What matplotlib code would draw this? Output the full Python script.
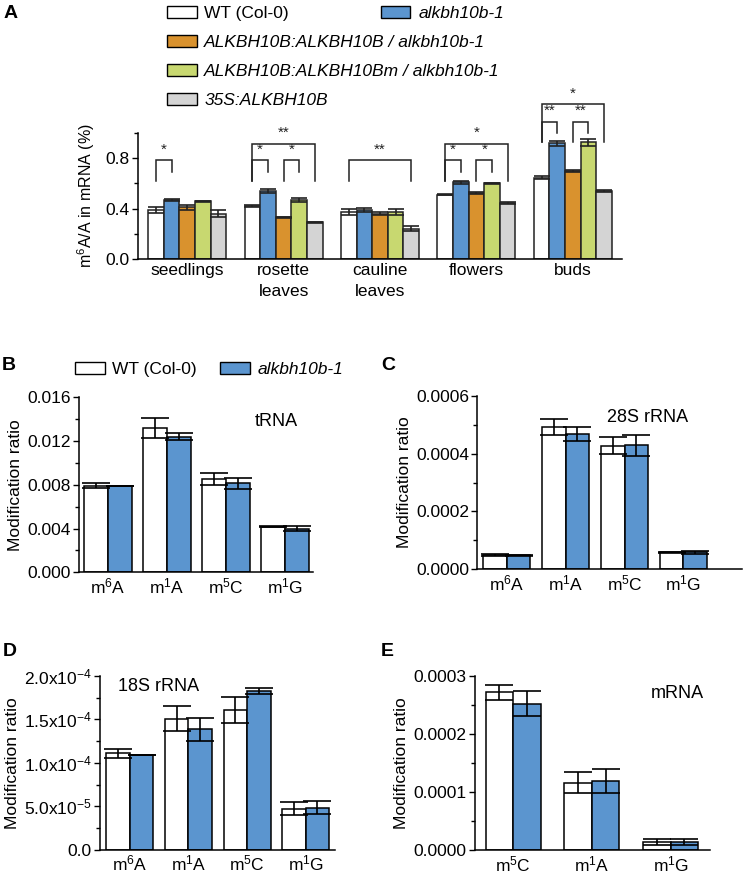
import numpy as np
import matplotlib
matplotlib.use('Agg')
import matplotlib.pyplot as plt
from matplotlib.patches import Patch
from matplotlib.ticker import MultipleLocator, FormatStrFormatter, FixedLocator, FixedFormatter

plt.rcParams['font.family'] = ['Liberation Sans', 'DejaVu Sans']
plt.rcParams['mathtext.default'] = 'regular'

##################################################################
# Data
##################################################################
# Panel A: m6A/A in mRNA (%) for five genotypes across tissues
tissues = ['seedlings', 'rosette\nleaves', 'cauline\nleaves', 'flowers', 'buds']
genotypes = ['WT (Col-0)', 'alkbh10b-1', 'ALKBH10B:ALKBH10B / alkbh10b-1',
             'ALKBH10B:ALKBH10Bm / alkbh10b-1', '35S:ALKBH10B']
a_wt = [0.39, 0.42, 0.375, 0.51, 0.645]
a_mut = [0.47, 0.54, 0.39, 0.61, 0.92]
a_comp = [0.41, 0.33, 0.36, 0.52, 0.70]
a_compm = [0.46, 0.47, 0.375, 0.60, 0.925]
a_oe = [0.36, 0.29, 0.24, 0.445, 0.54]
a_wt_err = [0.025, 0.005, 0.022, 0.003, 0.013]
a_mut_err = [0.008, 0.013, 0.018, 0.013, 0.02]
a_comp_err = [0.022, 0.004, 0.012, 0.008, 0.008]
a_compm_err = [0.004, 0.015, 0.022, 0.004, 0.027]
a_oe_err = [0.028, 0.002, 0.02, 0.01, 0.01]

# significance brackets: (tissue, bar_i, bar_j, top, leg_i, leg_j, label)
a_sig = [
    (0, 0, 1, 0.785, 0.62, 0.69, '*'),
    (1, 0, 1, 0.785, 0.62, 0.69, '*'),
    (1, 2, 3, 0.785, 0.62, 0.69, '*'),
    (1, 0, 4, 0.915, 0.62, 0.62, '**'),
    (2, 0, 4, 0.785, 0.62, 0.62, '**'),
    (3, 0, 1, 0.785, 0.62, 0.69, '*'),
    (3, 2, 3, 0.785, 0.62, 0.69, '*'),
    (3, 0, 4, 0.915, 0.62, 0.62, '*'),
    (4, 0, 1, 1.09, 0.925, 1.0, '**'),
    (4, 2, 3, 1.09, 0.925, 1.0, '**'),
    (4, 0, 4, 1.228, 0.925, 0.925, '*'),
]

# Panel B: tRNA
b_mods = ['m$^6$A', 'm$^1$A', 'm$^5$C', 'm$^1$G']
b_wt = [0.0079, 0.0132, 0.00853, 0.00417]
b_wt_err = [0.00023, 0.00094, 0.00056, 0.00005]
b_mut = [0.0079, 0.0124, 0.00814, 0.00399]
b_mut_err = [0.0, 0.0003, 0.00052, 0.0002]

# Panel C: 28S rRNA
c_mods = ['m$^6$A', 'm$^1$A', 'm$^5$C', 'm$^1$G']
c_wt = [0.0000494, 0.000491, 0.000427, 0.0000588]
c_wt_err = [0.000002, 0.000027, 0.000029, 0.000002]
c_mut = [0.000049, 0.000468, 0.000428, 0.0000585]
c_mut_err = [0.000002, 0.000024, 0.000036, 0.000004]

# Panel D: 18S rRNA
d_mods = ['m$^6$A', 'm$^1$A', 'm$^5$C', 'm$^1$G']
d_wt = [1.11e-4, 1.505e-4, 1.608e-4, 4.72e-5]
d_wt_err = [5e-6, 1.44e-5, 1.5e-5, 7.3e-6]
d_mut = [1.094e-4, 1.386e-4, 1.827e-4, 4.84e-5]
d_mut_err = [0.0, 1.3e-5, 3e-6, 7.5e-6]
d_ticks = [0.0, 5e-5, 1e-4, 1.5e-4, 2e-4]
d_ticklabels = ['0.0', '5.0x10$^{-5}$', '1.0x10$^{-4}$', '1.5x10$^{-4}$', '2.0x10$^{-4}$']

# Panel E: mRNA
e_mods = ['m$^5$C', 'm$^1$A', 'm$^1$G']
e_wt = [0.0002714, 0.0001159, 0.0000132]
e_wt_err = [0.0000124, 0.000018, 0.000005]
e_mut = [0.000252, 0.0001188, 0.0000143]
e_mut_err = [0.000021, 0.00002, 0.000005]

colors = ['white', '#5b95cf', '#d9922e', '#c8d870', '#d4d4d4']

##################################################################
# Layout helpers (pixel boxes -> figure fractions)
##################################################################
W, H = 747, 875
fig = plt.figure(figsize=(W / 100, H / 100), dpi=100)


def px_axes(left, top, right, bottom):
    return fig.add_axes([left / W, 1 - bottom / H, (right - left) / W, (bottom - top) / H])


def style_axes(ax, lw=1.1):
    for s in ['top', 'right']:
        ax.spines[s].set_visible(False)
    for s in ['left', 'bottom']:
        ax.spines[s].set_linewidth(lw)
    ax.tick_params(axis='x', length=0, labelsize=12.5, pad=3)
    ax.tick_params(axis='y', which='major', length=4, width=1.0, labelsize=12.5, pad=2)
    ax.tick_params(axis='y', which='minor', length=3, width=1.0)


def pair_bars(ax, mods, wt, wt_err, mut, mut_err, width, ylim, text, text_xy):
    x = np.arange(len(mods))
    ekw = dict(elinewidth=1.2, capthick=1.2, ecolor='black')
    ax.bar(x - width / 2, wt, width, yerr=wt_err, color=colors[0], edgecolor='black',
           linewidth=1.1, capsize=10, error_kw=ekw)
    ax.bar(x + width / 2, mut, width, yerr=mut_err, color=colors[1], edgecolor='black',
           linewidth=1.1, capsize=10, error_kw=ekw)
    ax.set_xticks(x)
    ax.set_xticklabels(mods)
    ax.set_ylim(*ylim)
    ax.set_ylabel('Modification ratio', fontsize=12.5, labelpad=3)
    ax.text(text_xy[0], text_xy[1], text, transform=ax.transAxes, fontsize=13,
            ha='left', va='center')
    style_axes(ax)


##################################################################
# Panel A
##################################################################
axA = px_axes(138, 133, 622, 259)
wA = 0.162
xg = np.arange(len(tissues))
vals = [a_wt, a_mut, a_comp, a_compm, a_oe]
errs = [a_wt_err, a_mut_err, a_comp_err, a_compm_err, a_oe_err]
for j in range(5):
    axA.bar(xg + (j - 2) * wA, vals[j], wA, yerr=errs[j], color=colors[j],
            edgecolor='#222222', linewidth=1.1, capsize=6,
            error_kw=dict(elinewidth=1.2, capthick=1.2, ecolor='#222222'))
for g, i, j, top, li, lj, lab in a_sig:
    xi = g + (i - 2) * wA
    xj = g + (j - 2) * wA
    axA.plot([xi, xi, xj, xj], [li, top, top, lj], color='#222222', lw=1.1,
             clip_on=False, solid_joinstyle='miter')
    axA.text((xi + xj) / 2, top + 0.03, lab, ha='center', va='bottom',
             fontsize=11, color='#222222', clip_on=False)
axA.set_xlim(-0.51, 4.51)
axA.set_ylim(0, 1.0)
axA.set_xticks(xg)
axA.set_xticklabels(tissues, linespacing=1.5)
axA.yaxis.set_major_locator(FixedLocator([0.0, 0.4, 0.8]))
axA.yaxis.set_minor_locator(MultipleLocator(0.2))
axA.yaxis.set_major_formatter(FormatStrFormatter('%.1f'))
axA.set_ylabel('m$^6$A/A in mRNA (%)', fontsize=11.5, labelpad=6)
style_axes(axA)

# legend for panel A
hA = [Patch(facecolor=colors[j], edgecolor='black', linewidth=1.0) for j in range(5)]
leg_kw = dict(frameon=False, fontsize=12.5, handlelength=1.7, handleheight=0.72,
              handletextpad=0.45, borderpad=0, borderaxespad=0)
legA1 = fig.legend(hA[:2], genotypes[:2], loc='upper left', ncol=2,
                   bbox_to_anchor=(167 / W, 1 - 6 / H), columnspacing=5.3, **leg_kw)
for t in legA1.get_texts()[1:]:
    t.set_style('italic')
legA2 = fig.legend(hA[2:], genotypes[2:], loc='upper left', labelspacing=0.78,
                   bbox_to_anchor=(167 / W, 1 - 35 / H), **leg_kw)
for t in legA2.get_texts():
    t.set_style('italic')

##################################################################
# Panels B-E
##################################################################
axB = px_axes(79, 397.3, 313, 572.3)
pair_bars(axB, b_mods, b_wt, b_wt_err, b_mut, b_mut_err, 0.41, (0, 0.016), 'tRNA', (0.75, 0.86))
axB.set_xlim(-0.49, 3.47)
axB.yaxis.set_major_locator(MultipleLocator(0.004))
axB.yaxis.set_minor_locator(MultipleLocator(0.002))
axB.yaxis.set_major_formatter(FormatStrFormatter('%.3f'))

legB = fig.legend(hA[:2], genotypes[:2], loc='upper left', ncol=2,
                  bbox_to_anchor=(75 / W, 1 - 362 / H), columnspacing=1.35, **leg_kw)
legB.get_texts()[1].set_style('italic')

axC = px_axes(477.3, 395.7, 741.7, 569.3)
pair_bars(axC, c_mods, c_wt, c_wt_err, c_mut, c_mut_err, 0.40, (0, 0.0006), '28S rRNA', (0.49, 0.875))
axC.set_xlim(-0.5, 3.99)
axC.yaxis.set_major_locator(MultipleLocator(0.0002))
axC.yaxis.set_minor_locator(MultipleLocator(0.0001))
axC.yaxis.set_major_formatter(FormatStrFormatter('%.4f'))

axD = px_axes(100, 676, 335, 849.7)
pair_bars(axD, d_mods, d_wt, d_wt_err, d_mut, d_mut_err, 0.40, (0, 2e-4), '18S rRNA', (0.075, 0.94))
axD.set_xlim(-0.51, 3.5)
axD.yaxis.set_major_locator(FixedLocator(d_ticks))
axD.yaxis.set_major_formatter(FixedFormatter(d_ticklabels))
axD.yaxis.set_minor_locator(MultipleLocator(2.5e-5))

axE = px_axes(475, 675.7, 710, 850)
pair_bars(axE, e_mods, e_wt, e_wt_err, e_mut, e_mut_err, 0.35, (0, 3e-4), 'mRNA', (0.75, 0.9))
axE.set_xlim(-0.485, 2.5)
axE.yaxis.set_major_locator(MultipleLocator(0.0001))
axE.yaxis.set_minor_locator(MultipleLocator(0.00005))
axE.yaxis.set_major_formatter(FormatStrFormatter('%.4f'))

# panel letters
for lab, xp, yp in [('A', 4, 13), ('B', 2, 366), ('C', 381, 366), ('D', 3, 652), ('E', 381, 652)]:
    fig.text(xp / W, 1 - yp / H, lab, fontsize=14, fontweight='bold', ha='left', va='center')

fig.savefig('out.png', dpi=100)
